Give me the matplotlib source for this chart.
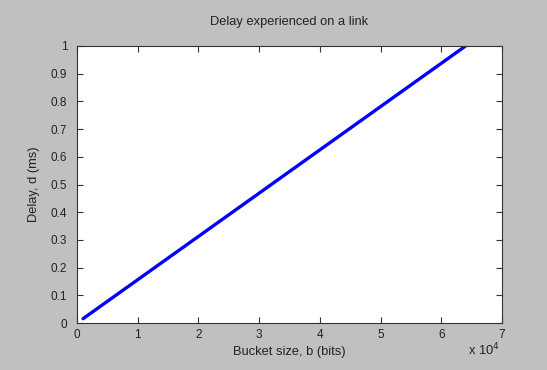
import matplotlib.pyplot as plt

# Data
bucket_bits = [1000, 8000, 16000, 24000, 32000, 40000, 48000, 56000, 64000]
delay_ms = [0.0156, 0.125, 0.25, 0.375, 0.5, 0.625, 0.75, 0.875, 1.0]

x_ticks = [0, 1, 2, 3, 4, 5, 6, 7]
y_ticks = [0, 0.1, 0.2, 0.3, 0.4, 0.5, 0.6, 0.7, 0.8, 0.9, 1]
y_labels = ['0', '0.1', '0.2', '0.3', '0.4', '0.5', '0.6', '0.7', '0.8', '0.9', '1']

plt.rcParams['font.family'] = ['Liberation Sans', 'DejaVu Sans']

fig = plt.figure(figsize=(5.47, 3.70), dpi=100, facecolor='#c0c0c0')
ax = fig.add_axes([77 / 547, 1 - 323 / 370, 425 / 547, 277 / 370])

ax.plot([b / 1e4 for b in bucket_bits], delay_ms, color='#0000ff', linewidth=2.4,
        solid_capstyle='round')

ax.set_xlim(0, 7)
ax.set_ylim(0, 1)
ax.set_xticks(x_ticks)
ax.set_xticklabels([str(t) for t in x_ticks])
ax.set_yticks(y_ticks)
ax.set_yticklabels(y_labels)
ax.tick_params(direction='in', top=True, right=True, length=4, width=0.8,
               labelsize=8.5, color='#333333', labelcolor='#222222')
ax.tick_params(axis='y', pad=7)
ax.tick_params(axis='x', pad=4)
for s in ax.spines.values():
    s.set_linewidth(0.8)
    s.set_color('#333333')

ax.set_title('Delay experienced on a link', fontsize=9.3, pad=15, color='#222222')
ax.set_xlabel('Bucket size, b (bits)', fontsize=9.3, labelpad=4, color='#222222')
ax.set_ylabel('Delay, d (ms)', fontsize=9.3, labelpad=8, color='#222222')
fig.text(468 / 547, 1 - 350 / 370, r'x 10$^4$', fontsize=9.3, va='center', color='#222222')

plt.savefig('out.png', dpi=100, facecolor=fig.get_facecolor())
